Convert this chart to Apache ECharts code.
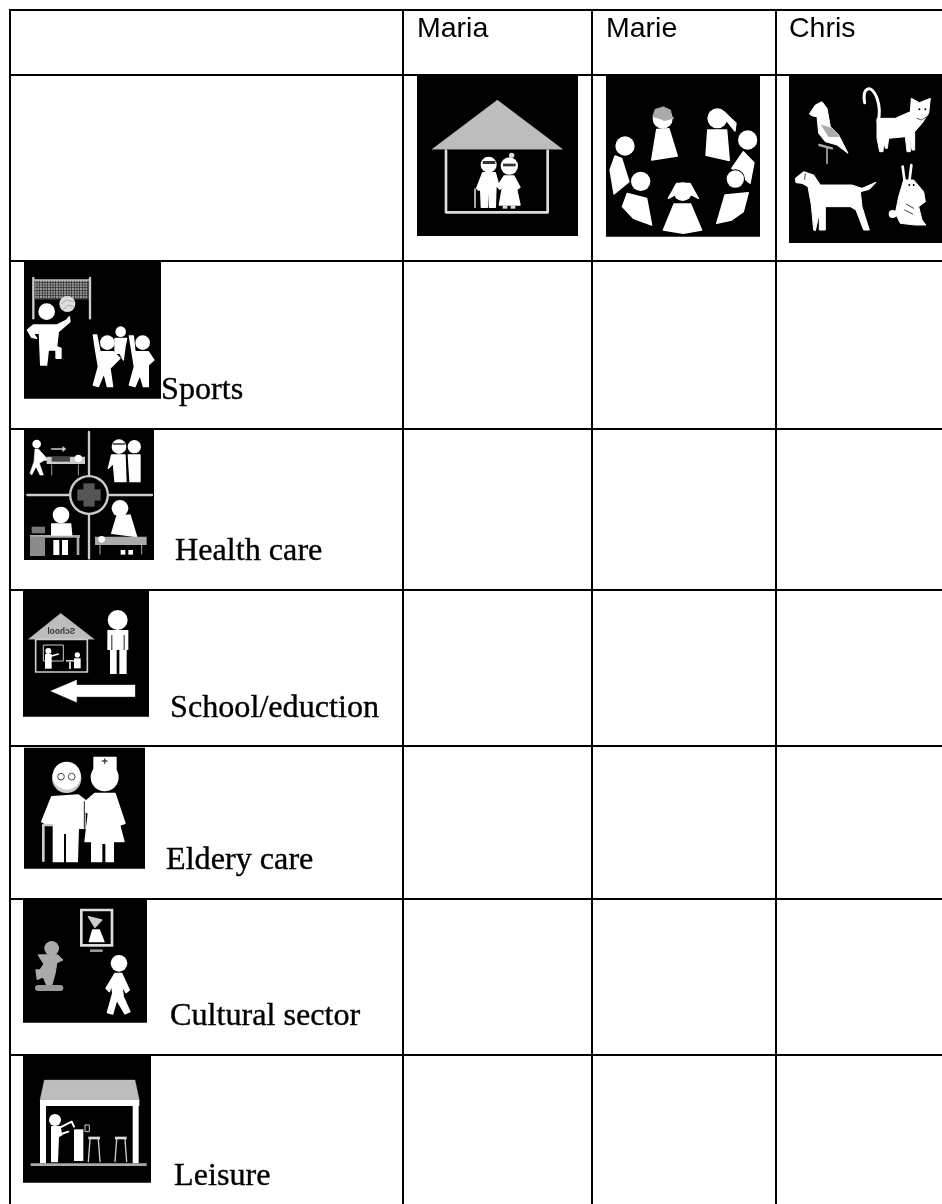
<!DOCTYPE html>
<html><head><meta charset="utf-8">
<style>html,body{margin:0;padding:0;background:#fff}#c{width:942px;height:1204px}</style>
<script src="https://cdn.jsdelivr.net/npm/echarts@6/dist/echarts.min.js"></script>
</head><body><div id="c"></div>
<script>
const columnNames = ['Maria', 'Marie', 'Chris'];
const columnIcons = ['home', 'friends', 'pets'];
const rowNames = ['Sports', 'Health care', 'School/eduction', 'Eldery care', 'Cultural sector', 'Leisure'];
const rowIcons = ['sports', 'health', 'school', 'elderly', 'culture', 'leisure'];

// Page layout (pixels)
const colEdges = [10, 403, 592, 776, 942];
const rowEdges = [10, 75, 261, 429, 590, 746, 899, 1055];
const tableBottom = 1204;
const headX = [417, 606, 789];
const headBottom = 44;
const labelX = [161, 175, 170, 166, 170, 174];
const labelBottom = [406, 567, 724, 876, 1032, 1192];

const W = '#fff', G = '#bdbdbd', D = '#000', M = '#8a8a8a';
const r = (x, y, w, h, fill, extra) => ({type:'rect', shape:Object.assign({x,y,width:w,height:h}, extra||{}), style:{fill}});
const box = (x, y, w, h, stroke, lw) => ({type:'rect', shape:{x,y,width:w,height:h}, style:{fill:'none', stroke, lineWidth:lw}});
const c = (cx, cy, rad, fill) => ({type:'circle', shape:{cx,cy,r:rad}, style:{fill}});
const p = (pts, fill, sw) => ({type:'polygon', shape:{points:pts}, style:{fill, stroke:fill, lineWidth:sw===undefined?4:sw, lineJoin:'round'}});
const l = (pts, w, stroke, smooth) => ({type:'polyline', shape:{points:pts, smooth:smooth||0}, style:{fill:'none', stroke, lineWidth:w, lineCap:'round', lineJoin:'round'}});

function netLines(){
  const out = [];
  for (let x = 110; x < 265; x += 8) out.push(r(x,92,2,56,'#222'));
  for (let y = 96; y < 148; y += 8) out.push(r(105,y,160,2,'#333'));
  return out;
}

const ICONS = {
  home: {o:[410,70], s:[
    r(21,18,483,480,D),
    p([[262,90],[458,238],[66,238]],G,1),
    l([[108,242],[108,427],[413,427],[413,242]],8,'#ddd'),
    c(236,284,24,W), r(218,273,38,9,'#333'),
    p([[218,308],[256,308],[266,345],[258,350],[256,412],[238,412],[236,368],[232,368],[232,412],[214,412],[212,360],[205,360],[200,355]],W),
    l([[195,358],[195,412]],6,'#aaa'),
    c(298,288,26,W), c(305,256,8,'#ddd'), r(279,281,38,8,'#333'),
    p([[282,318],[312,318],[330,352],[322,358],[318,348],[330,405],[268,405],[278,348],[270,358],[262,350]],W),
    r(278,407,14,9,'#ddd'), r(302,407,14,9,'#ddd')
  ]},
  friends: {o:[600,70], s:[
    r(18,18,462,482,D),
    c(188,146,30,W),
    p([[158,140],[165,118],[190,110],[212,120],[215,140],[222,144],[195,152],[175,145]],'#aaa',2),
    p([[170,178],[207,176],[232,258],[155,270]],W),
    c(352,145,30,W), p([[375,128],[408,160],[405,183],[382,155]],W),
    p([[323,180],[380,180],[388,272],[318,256]],W),
    c(443,210,29,W), p([[430,245],[462,278],[450,340],[395,295]],W),
    c(406,327,29,D), c(406,327,26,W),
    p([[375,375],[445,368],[430,425],[395,450],[350,460]],W),
    p([[205,385],[230,340],[270,340],[295,385],[275,375],[225,375]],W),
    c(248,365,28,W), p([[222,402],[272,402],[305,480],[250,490],[190,480]],W),
    c(122,334,29,W), p([[82,370],[140,385],[155,465],[100,445],[67,410]],W),
    c(75,228,29,W), p([[45,258],[65,265],[87,335],[42,372],[30,300]],W)
  ]},
  pets: {o:[782,70], s:[
    r(21,18,459,501,D),
    p([[100,105],[120,95],[135,115],[145,170],[170,195],[198,250],[165,225],[130,215],[110,190],[105,140],[92,138],[82,132]],W,3),
    p([[118,165],[150,175],[172,200],[140,200]],'#aaa',2),
    l([[112,225],[150,235]],7,'#aaa'), l([[135,232],[135,280]],5,'#aaa'),
    l([[288,155],[292,120],[285,85],[270,60],[255,58],[247,72],[248,98]],9,W,0.5),
    p([[285,145],[340,145],[385,125],[388,85],[412,98],[445,85],[440,130],[420,160],[398,185],[398,240],[390,240],[385,205],[385,245],[375,245],[370,200],[320,205],[316,235],[310,235],[305,215],[303,245],[293,245],[285,205]],W,3),
    c(412,118,3,D), c(430,118,3,D), l([[405,145],[418,150],[435,140]],2.5,'#333'),
    p([[40,325],[65,305],[95,315],[115,345],[210,345],[240,355],[282,337],[262,358],[235,365],[240,410],[262,480],[245,480],[222,420],[205,410],[130,410],[130,480],[112,480],[112,430],[100,482],[95,480],[88,405],[78,350],[60,340],[42,338]],W,3),
    l([[70,312],[68,328]],3,'#444'),
    l([[362,290],[368,335]],8,W), l([[388,285],[382,335]],8,W),
    p([[365,330],[395,330],[425,365],[430,395],[410,410],[420,450],[432,465],[400,465],[355,460],[340,430],[350,380]],W,3),
    c(332,432,12,W), c(382,345,3,D), c(395,345,3,D),
    l([[372,402],[395,415]],3,'#444'), l([[368,420],[392,432]],3,'#444')
  ]},
  sports: {o:[0,250], s:[
    r(72,30,411,416,D),
    r(105,90,160,58,'#999')].concat(netLines(), [
    l([[104,90],[266,90]],5,G),
    l([[100,84],[100,205]],7,'#ccc'), l([[270,84],[270,205]],7,'#ccc'),
    c(202,162,24,'#ddd'),
    l([[185,160],[200,150],[220,155]],2,'#888'), l([[190,178],[205,165],[222,170]],2,'#888'),
    c(140,185,25,W),
    p([[100,225],[170,225],[200,210],[208,200],[210,215],[175,245],[170,290],[183,295],[183,325],[168,325],[168,300],[145,300],[140,345],[122,345],[118,250],[100,250],[110,265],[95,262],[82,240]],W),
    c(322,278,22,W),
    p([[300,305],[340,305],[360,325],[340,345],[330,355],[338,410],[322,410],[312,370],[295,410],[280,405],[295,350],[285,290],[280,255],[290,255]],W),
    c(362,245,16,W),
    p([[345,265],[380,265],[375,290],[370,330],[360,310],[345,310]],W),
    c(428,278,22,W),
    p([[405,305],[445,305],[462,330],[445,345],[445,410],[430,410],[420,375],[405,410],[388,405],[403,350],[388,258],[400,258]],W)
  ])},
  health: {o:[0,250], s:[
    r(72,535,390,395,D),
    l([[267,546],[267,925]],7,'#ccc'), l([[82,735],[456,735]],7,'#ccc'),
    c(267,735,60,'#ccc'), c(267,735,53,D),
    r(250,700,34,70,'#555'), r(232,718,70,34,'#555'),
    c(110,582,13,W),
    p([[105,597],[115,597],[145,630],[130,632],[118,640],[130,675],[120,675],[108,650],[95,675],[90,670],[102,635]],W,2),
    l([[155,597],[190,597]],5,'#ccc'), p([[188,589],[198,597],[188,605]],'#ccc',1),
    r(140,620,115,22,'#ccc'), r(155,620,55,15,'#444'), c(235,625,11,W),
    l([[155,645],[155,675]],3,'#999'), l([[235,645],[235,675]],3,'#999'),
    c(357,590,22,W), l([[340,582],[374,582]],5,'#333'),
    p([[335,615],[375,615],[378,695],[345,695],[340,640],[325,655]],W),
    c(403,590,20,W), p([[385,615],[420,615],[420,695],[390,695]],W),
    r(90,855,150,8,'#aaa'), r(90,860,45,58,M), r(95,830,40,20,'#777'), r(230,860,8,55,'#aaa'),
    c(183,795,25,W), p([[155,822],[212,822],[215,855],[155,855]],W),
    r(160,870,18,45,W), r(186,870,18,45,W),
    c(360,775,25,W), p([[335,850],[350,800],[390,795],[410,860]],W),
    r(285,860,155,25,'#aaa'), c(305,868,10,W),
    l([[300,885],[300,912]],3,'#aaa'), l([[425,885],[425,912]],3,'#aaa'), r(362,900,14,14,W), r(385,900,14,14,W)
  ]},
  school: {o:[0,580], s:[
    r(69,33,378,377,D),
    p([[182,100],[283,178],[85,178]],G,1),
    {type:'text', x:184, y:155, scaleX:-1, style:{text:'School', x:0, y:0, fill:'#333', font:'bold 25px "Liberation Sans"', align:'center', verticalAlign:'middle'}},
    box(107,178,155,98,'#ccc',5), box(130,195,60,48,'#ccc',3),
    c(145,213,9,W), r(135,222,20,44,W), l([[155,228],[175,222]],4,W),
    c(232,225,8,W), r(222,235,20,30,W), r(198,240,24,5,'#ccc'), r(207,245,6,22,'#ccc'),
    c(353,120,30,W), r(322,150,63,60,W), r(330,205,20,77,W), r(358,205,22,77,W),
    r(334,165,3,45,'#222'), r(371,165,3,45,'#222'),
    p([[152,333],[230,300],[230,315],[405,315],[405,350],[230,350],[230,367]],W,1)
  ]},
  elderly: {o:[0,580], s:[
    r(72,503,363,363,D),
    c(200,595,44,'#ccc'), c(200,587,42,W),
    {type:'circle', shape:{cx:183,cy:590,r:10}, style:{fill:'none',stroke:'#444',lineWidth:3}},
    {type:'circle', shape:{cx:215,cy:590,r:10}, style:{fill:'none',stroke:'#444',lineWidth:3}},
    l([[130,842],[130,735],[155,735]],8,'#ccc'),
    p([[155,650],[235,645],[255,660],[255,745],[235,745],[232,845],[200,845],[200,760],[190,760],[190,845],[160,845],[160,730],[135,730],[125,725]],W),
    p([[285,640],[345,640],[375,730],[360,735],[350,700],[372,785],[340,785],[340,845],[318,845],[318,790],[305,790],[305,845],[275,845],[275,785],[255,785],[265,700],[250,690],[250,670]],W),
    l([[253,665],[253,745]],3,'#222'),
    p([[282,532],[348,532],[348,575],[282,575]],W), c(314,592,42,W),
    l([[314,537],[314,550]],4,'#444'), l([[307,543],[321,543]],4,'#444')
  ]},
  culture: {o:[0,890], s:[
    r(69,30,372,368,D),
    box(244,60,92,106,'#ddd',8),
    p([[278,120],[298,120],[312,155],[268,155]],W), p([[265,80],[305,90],[285,112]],'#ccc'),
    r(270,178,38,8,'#999'),
    c(155,175,22,'#aaa'),
    p([[135,195],[172,195],[188,210],[170,218],[165,250],[155,285],[140,285],[130,260],[112,268],[108,240],[120,240],[132,222],[115,195]],'#aaa'),
    r(105,285,85,18,'#999',{r:9}),
    c(357,220,25,W),
    p([[345,250],[365,250],[388,300],[378,308],[365,285],[370,320],[390,365],[375,372],[350,330],[338,372],[322,368],[338,310],[335,285],[328,305],[318,295]],W)
  ]},
  leisure: {o:[0,890], s:[
    r(69,497,384,381,D),
    p([[133,570],[405,570],[418,630],[120,630]],G,1),
    r(120,630,298,18,W), r(120,648,18,172,W), r(398,648,18,172,W),
    r(92,820,348,8,'#aaa'),
    c(165,690,18,W),
    p([[155,710],[180,710],[185,735],[175,740],[172,815],[155,815]],W),
    l([[175,715],[215,695],[222,710]],6,W), l([[175,735],[205,725]],6,W),
    r(222,718,28,95,W), box(255,705,13,20,'#ccc',3),
    r(265,740,35,8,'#ddd'), r(345,740,35,8,'#ddd'),
    l([[270,748],[265,815]],4,'#ccc'), l([[295,748],[300,815]],4,'#ccc'),
    l([[350,748],[345,815]],4,'#ccc'), l([[375,748],[380,815]],4,'#ccc')
  ]}
};

const topIconsData = columnIcons.map((k,i)=>({name:columnNames[i], value:[ICONS[k].o[0],ICONS[k].o[1]], icon:k}));
const rowIconsData = rowIcons.map((k,i)=>({name:rowNames[i], value:[ICONS[k].o[0],ICONS[k].o[1]], icon:k}));

function iconSeries(name, data){
  return {type:'custom', name, data, clip:false, silent:true,
    encode:{x:0,y:1},
    renderItem(params, api){
      const pt = api.coord([api.value(0), api.value(1)]);
      return {type:'group', x:pt[0], y:pt[1], scaleX:1/3, scaleY:1/3, children:ICONS[data[params.dataIndex].icon].s};
    }};
}
const black = '#000';
const gridSegs = [];
rowEdges.forEach(y=>gridSegs.push([colEdges[0]-1,y,942,y]));
colEdges.slice(0,4).forEach((x,i)=>gridSegs.push([x,rowEdges[0],x,tableBottom]));

const chart = echarts.init(document.getElementById('c'), null, {renderer:'canvas'});
chart.setOption({
  animation:false,
  backgroundColor:'#fff',
  grid:{left:0,right:0,top:0,bottom:0},
  xAxis:{type:'value',min:0,max:942,show:false},
  yAxis:{type:'value',min:0,max:1204,inverse:true,show:false},
  series:[
    {type:'custom',name:'grid',data:gridSegs,clip:false,silent:true,encode:{x:[0,2],y:[1,3]},
     renderItem(p_,api){
       const a=api.coord([api.value(0),api.value(1)]), b=api.coord([api.value(2),api.value(3)]);
       return {type:'line',shape:{x1:a[0],y1:a[1],x2:b[0],y2:b[1]},style:{stroke:black,lineWidth:2}};
     }},
    iconSeries('column icons', topIconsData),
    iconSeries('row icons', rowIconsData),
    {type:'custom',name:'column names',data:columnNames.map((n,i)=>({name:n,value:[headX[i],headBottom]})),clip:false,silent:true,encode:{x:0,y:1},
     renderItem(p_,api){
       const a=api.coord([api.value(0),api.value(1)]);
       return {type:'text',x:a[0],y:a[1],style:{text:columnNames[p_.dataIndex],x:0,y:0,fill:'#000',font:'28.5px "Liberation Sans"',align:'left',verticalAlign:'bottom'}};
     }},
    {type:'custom',name:'row names',data:rowNames.map((n,i)=>({name:n,value:[labelX[i],labelBottom[i]]})),clip:false,silent:true,encode:{x:0,y:1},
     renderItem(p_,api){
       const a=api.coord([api.value(0),api.value(1)]);
       return {type:'text',x:a[0],y:a[1],scaleX:1.055,style:{text:rowNames[p_.dataIndex],x:0,y:0,fill:'#000',stroke:'#000',lineWidth:0.35,font:'30.5px "Liberation Serif"',align:'left',verticalAlign:'bottom'}};
     }}
  ]
});
</script></body></html>
